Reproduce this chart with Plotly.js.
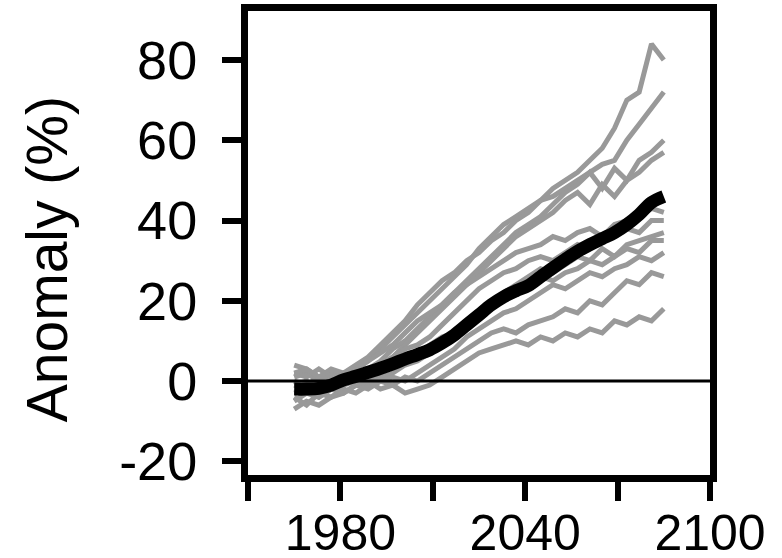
<!DOCTYPE html>
<html>
<head>
<meta charset="utf-8">
<script src="https://cdn.plot.ly/plotly-3.0.1.min.js"></script>
<style>html,body{margin:0;padding:0;background:#fff;}#chart{width:782px;height:558px;}</style>
</head>
<body>
<div id="chart"></div>
<script>
var years = [1965,1969,1973,1977,1981,1985,1989,1993,1997,2001,2005,2009,2013,2017,2021,2025,2029,2033,2037,2041,2045,2049,2053,2057,2061,2065,2069,2073,2077,2081,2085];

var run1  = [1, 2, 0, 2, 1, 3, 5, 8, 11, 14, 17, 20, 23, 26, 29, 33, 36, 39, 41, 43, 45, 48, 50, 52, 55, 58, 63, 70, 72, 84, 80];
var run2  = [0, -1, 1, 0, 2, 4, 6, 9, 12, 15, 19, 22, 25, 27, 30, 32, 35, 37, 40, 42, 45, 46, 48, 50, 52, 54, 55, 60, 64, 68, 72];
var run3  = [-1, 0, -2, 1, 0, 2, 3, 5, 8, 10, 13, 16, 19, 22, 25, 28, 31, 34, 37, 39, 41, 44, 47, 49, 52, 48, 53, 50, 55, 57, 60];
var run4  = [-5, -3, -4, -2, -1, 0, 2, 4, 6, 9, 12, 15, 18, 21, 24, 27, 30, 33, 36, 38, 40, 42, 45, 47, 44, 49, 46, 50, 52, 55, 57];
var run5  = [2, 1, 3, 1, 2, 3, 5, 7, 9, 12, 15, 17, 19, 22, 24, 26, 28, 30, 32, 33, 34, 36, 35, 37, 38, 36, 39, 40, 41, 43, 42];
var run6  = [-1, -2, 0, -1, 1, 2, 3, 4, 6, 8, 9, 11, 14, 17, 20, 23, 25, 27, 28, 30, 31, 30, 32, 34, 33, 35, 36, 38, 37, 40, 40];
var run7  = [-7, -5, -6, -4, -3, -1, 0, 1, 2, 4, 5, 7, 9, 11, 14, 16, 19, 22, 24, 26, 28, 27, 29, 31, 30, 33, 31, 34, 35, 36, 37];
var run8  = [4, 3, 1, 3, 2, 1, 2, 3, 4, 5, 7, 9, 11, 12, 14, 17, 19, 21, 22, 24, 26, 25, 27, 28, 30, 29, 31, 33, 32, 35, 35];
var run9  = [-4, -6, -3, -4, -2, -3, -1, 0, 1, 0, 2, 4, 6, 8, 11, 13, 15, 17, 18, 20, 22, 24, 23, 25, 27, 26, 28, 29, 31, 30, 32];
var run10 = [-3, -2, -4, -2, -3, -1, -2, 0, -1, 1, 0, 2, 4, 6, 8, 10, 12, 13, 12, 14, 15, 16, 18, 17, 20, 19, 22, 25, 24, 27, 26];
var run11 = [2, 3, 1, 0, 1, -1, 0, -2, -1, -3, -2, -1, 1, 3, 5, 7, 8, 9, 10, 9, 11, 10, 12, 11, 13, 12, 15, 14, 16, 15, 18];
var ensembleMean = [-2, -2, -1.8, -1, 0.3, 1.2, 2.2, 3.2, 4.3, 5.5, 6.6, 7.8, 9.5, 11.5, 14, 16.5, 19, 21, 22.5, 23.8, 26, 28.2, 30.3, 32.3, 34, 35.5, 37, 39, 41.5, 44.5, 46];

var runs = [run1, run2, run3, run4, run5, run6, run7, run8, run9, run10, run11];

var xTickVals = [1950, 1980, 2010, 2040, 2070, 2100];
var xTickText = ['', '1980', '', '2040', '', '2100'];
var yTickVals = [-20, 0, 20, 40, 60, 80];
var yTickText = ['-20', '0', '20', '40', '60', '80'];
var yTitle = 'Anomaly (%)';

var traces = runs.map(function (r) {
  return {x: years, y: r, type: 'scatter', mode: 'lines',
          line: {color: '#999999', width: 5}, hoverinfo: 'skip', showlegend: false};
});
traces.push({x: years, y: ensembleMean, type: 'scatter', mode: 'lines',
             line: {color: '#000000', width: 13, shape: 'spline'}, showlegend: false});

var fam = '"Liberation Sans", Arial, Helvetica, sans-serif';
var font = {family: fam, size: 50, color: '#000'};

var layout = {
  width: 782, height: 558,
  margin: {l: 248, r: 72, t: 11, b: 83, pad: 0},
  paper_bgcolor: '#fff', plot_bgcolor: '#fff',
  font: font,
  showlegend: false,
  xaxis: {
    range: [1950, 2100], tickmode: 'array', tickvals: xTickVals, ticktext: xTickText,
    showgrid: false, zeroline: false, showline: true, mirror: true,
    linecolor: '#000', linewidth: 7, ticks: 'outside', ticklen: 19, tickwidth: 6, tickcolor: '#000',
    tickfont: {family: fam, size: 50, color: '#000'}, ticklabelstandoff: -11
  },
  yaxis: {
    range: [-23.4, 92.2], tickmode: 'array', tickvals: yTickVals, ticktext: yTickText,
    showgrid: false, zeroline: false, showline: true, mirror: true,
    linecolor: '#000', linewidth: 7, ticks: 'outside', ticklen: 19, tickwidth: 6, tickcolor: '#000',
    tickfont: {family: fam, size: 54, color: '#000'}, ticklabelstandoff: 14
  },
  shapes: [{type: 'line', xref: 'paper', x0: 0, x1: 1, yref: 'y', y0: 0, y1: 0,
            line: {color: '#000', width: 3}, layer: 'above'}],
  annotations: [{text: yTitle, textangle: -90, xref: 'paper', yref: 'paper',
                 x: -0.435, y: 0.465, xanchor: 'center', yanchor: 'middle', showarrow: false,
                 font: {family: fam, size: 57, color: '#000'}}]
};

Plotly.newPlot('chart', traces, layout, {staticPlot: true, displayModeBar: false});
</script>
</body>
</html>
